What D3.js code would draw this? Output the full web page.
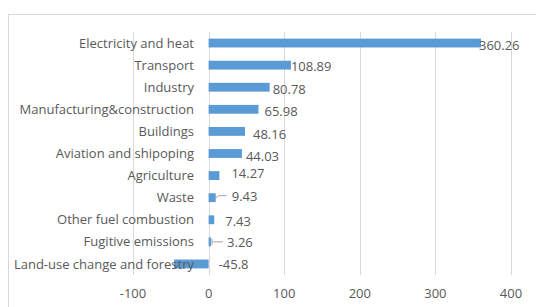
<!DOCTYPE html>
<html>
<head>
<meta charset="utf-8">
<script src="https://cdn.jsdelivr.net/npm/d3@7"></script>
<style>
  body { margin: 0; background: #fff; }
  text { font-family: "Open Sans", Lato, sans-serif; fill: #595959; }
</style>
</head>
<body>
<svg width="536" height="307"></svg>
<script>
var categories = ["Electricity and heat", "Transport", "Industry", "Manufacturing&construction",
  "Buildings", "Aviation and shipoping", "Agriculture", "Waste", "Other fuel combustion",
  "Fugitive emissions", "Land-use change and forestry"];
var values = [360.26, 108.89, 80.78, 65.98, 48.16, 44.03, 14.27, 9.43, 7.43, 3.26, -45.8];
var xTicks = [-100, 0, 100, 200, 300, 400];

// where Excel put each data label, relative to the bar end
var labelNudge = [[-2, 2], [0, 1], [3, 2], [6, 2], [8, 3], [4, 3], [12, -2], [16, -1], [11, 2], [16, 1], [10, 0]];

var svg = d3.select('svg');
var fontSize = 13;

svg.append('rect')
  .attr('x', 8.5).attr('y', 14.5)
  .attr('width', 600).attr('height', 400)
  .attr('fill', 'none').attr('stroke', '#d9d9d9');

var x = d3.scaleLinear().domain([-100, 400]).range([133, 511]);
var y = d3.scaleBand().domain(categories).range([32, 275]).paddingInner(0.6).paddingOuter(0.3);

// gridlines
svg.selectAll('line.grid')
  .data(xTicks)
  .enter()
  .append('line')
  .attr('class', 'grid')
  .attr('x1', function(d) { return Math.round(x(d)) + 0.5; })
  .attr('x2', function(d) { return Math.round(x(d)) + 0.5; })
  .attr('y1', 32).attr('y2', 275)
  .attr('stroke', '#d9d9d9');

// tick labels
svg.selectAll('text.tick')
  .data(xTicks)
  .enter()
  .append('text')
  .attr('class', 'tick')
  .attr('x', function(d) { return x(d); })
  .attr('y', 293)
  .attr('dy', '0.35em')
  .attr('text-anchor', 'middle')
  .style('font-size', fontSize + 'px')
  .text(function(d) { return d; });

// bars
svg.selectAll('rect.bar')
  .data(values)
  .enter()
  .append('rect')
  .attr('class', 'bar')
  .attr('x', function(d) { return x(Math.min(0, d)); })
  .attr('width', function(d) { return Math.abs(x(d) - x(0)); })
  .attr('y', function(d, i) { return y(categories[i]); })
  .attr('height', y.bandwidth())
  .attr('fill', '#5b9bd5');

// category labels
svg.selectAll('text.cat')
  .data(categories)
  .enter()
  .append('text')
  .attr('class', 'cat')
  .attr('x', 194)
  .attr('y', function(d) { return y(d) + y.bandwidth() / 2; })
  .attr('dy', '0.35em')
  .attr('text-anchor', 'end')
  .style('font-size', fontSize + 'px')
  .text(function(d) { return d; });

// leader lines for the two small bars
function barEnd(i) { return x(Math.max(0, values[i])); }
function barMid(i) { return y(categories[i]) + y.bandwidth() / 2; }
var wi = categories.indexOf("Waste");
svg.append('path')
  .attr('d', 'M' + (barEnd(wi) - 1) + ',' + (barMid(wi) + 1) + 'L' + (barEnd(wi) + 3) + ',' + (barMid(wi) - 2) + 'H' + (barEnd(wi) + 11))
  .attr('fill', 'none').attr('stroke', '#a6a6a6');
var fi = categories.indexOf("Fugitive emissions");
svg.append('path')
  .attr('d', 'M' + (barEnd(fi) + 1) + ',' + (barMid(fi) - 3) + 'V' + (barMid(fi) + 3) + 'M' + (barEnd(fi) + 1) + ',' + barMid(fi) + 'H' + (barEnd(fi) + 12))
  .attr('fill', 'none').attr('stroke', '#a6a6a6');

// value labels
svg.selectAll('text.val')
  .data(values)
  .enter()
  .append('text')
  .attr('class', 'val')
  .attr('x', function(d, i) { return barEnd(i) + labelNudge[i][0]; })
  .attr('y', function(d, i) { return barMid(i) + labelNudge[i][1]; })
  .attr('dy', '0.35em')
  .style('font-size', fontSize + 'px')
  .text(function(d) { return d; });
</script>
</body>
</html>
